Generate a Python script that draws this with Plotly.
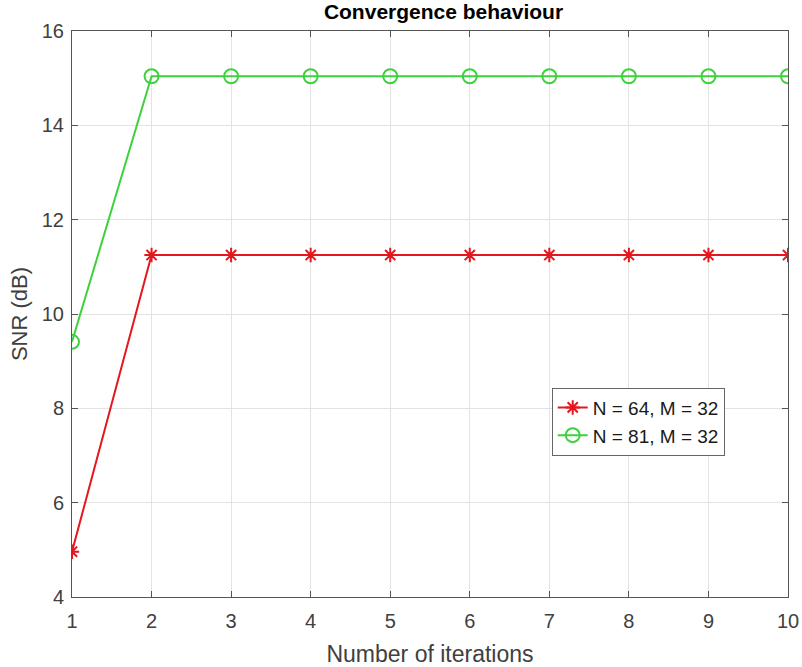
import plotly.graph_objects as go

iterations = [1, 2, 3, 4, 5, 6, 7, 8, 9, 10]
snr_n64 = [4.96, 11.25, 11.25, 11.25, 11.25, 11.25, 11.25, 11.25, 11.25, 11.25]
snr_n81 = [9.41, 15.04, 15.04, 15.04, 15.04, 15.04, 15.04, 15.04, 15.04, 15.04]
names = ["N = 64, M = 32", "N = 81, M = 32"]
x_ticks = list(range(1, 11))
y_ticks = [4, 6, 8, 10, 12, 14, 16]

RED = "#e3171e"
GREEN = "#3cd23c"
FONT = "Liberation Sans, Arial, Helvetica, sans-serif"

fig = go.Figure()
fig.add_trace(go.Scatter(
    x=iterations, y=snr_n64, name=names[0], mode="lines+markers",
    line=dict(color=RED, width=2),
    marker=dict(symbol="asterisk-open", size=12, color=RED, line=dict(color=RED, width=2)),
))
fig.add_trace(go.Scatter(
    x=iterations, y=snr_n81, name=names[1], mode="lines+markers",
    line=dict(color=GREEN, width=2),
    marker=dict(symbol="circle-open", size=14, color=GREEN, line=dict(color=GREEN, width=2)),
))

axis_common = dict(
    showline=True, linecolor="#555555", linewidth=1, mirror="ticks",
    ticks="inside", ticklen=6, tickcolor="#555555",
    showgrid=True, gridcolor="#e3e3e3", gridwidth=1, zeroline=False,
    tickfont=dict(family=FONT, size=20, color="#404040"),
    automargin=False,
)

fig.update_xaxes(
    range=[1, 10], tickvals=x_ticks, ticklabelstandoff=6,
    title=dict(text="Number of iterations", font=dict(family=FONT, size=23, color="#404040"), standoff=18),
    **axis_common,
)
fig.update_yaxes(
    range=[4, 16], tickvals=y_ticks, ticklabelstandoff=3,
    title=dict(text="SNR (dB)", font=dict(family=FONT, size=22, color="#404040"), standoff=8),
    **axis_common,
)

fig.update_layout(
    width=802, height=667,
    margin=dict(l=72, r=14, t=31, b=70),
    plot_bgcolor="white", paper_bgcolor="white",
    title=dict(text="<b>Convergence behaviour</b>", x=0.553, xanchor="center", y=0.993, yanchor="top",
               font=dict(family=FONT, size=21, color="#000000")),
    legend=dict(
        x=0.67, y=0.37, xanchor="left", yanchor="top",
        bgcolor="white", bordercolor="#666666", borderwidth=1,
        font=dict(family=FONT, size=19, color="#1a1a1a"),
        tracegroupgap=0,
    ),
    showlegend=True,
)

fig.write_html("out.html")
